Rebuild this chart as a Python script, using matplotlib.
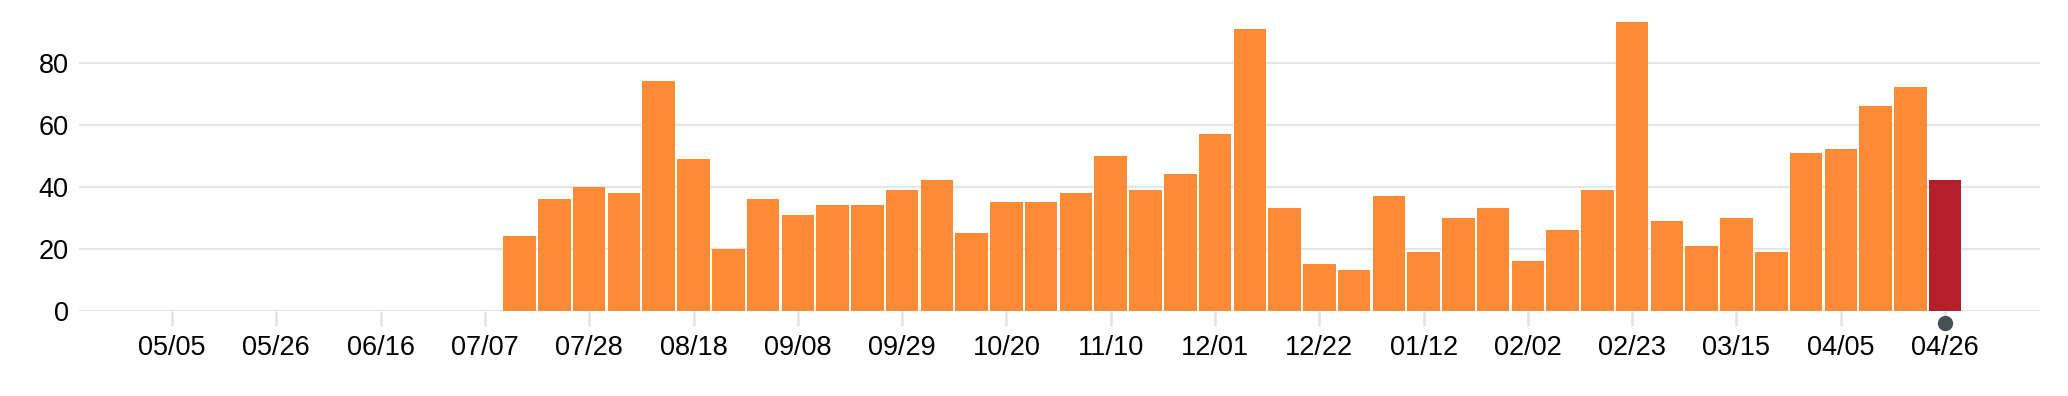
import pandas as pd
import matplotlib
matplotlib.use('Agg')
import matplotlib.pyplot as plt
import matplotlib.dates as mdates
import matplotlib.transforms as mtransforms

# weekly counts, first bar is the week of 2019-07-14, last one is current week
first_week = '2019-07-14'
counts = [24, 36, 40, 38, 74, 49, 20, 36, 31, 34, 34, 39, 42, 25,
          35, 35, 38, 50, 39, 44, 57, 91, 33, 15, 13, 37, 19, 30,
          33, 16, 26, 39, 93, 29, 21, 30, 19, 51, 52, 66, 72, 42]
tick_start = '2019-05-05'
tick_end = '2020-04-26'
y_ticks = [0, 20, 40, 60, 80]

orange = '#fd8a35'
red = '#b31f2b'
grid_col = '#e6e6e6'

weeks = pd.date_range(first_week, periods=len(counts), freq='7D')
ticks = pd.date_range(tick_start, tick_end, freq='21D')
colors = [orange] * (len(counts) - 1) + [red]

plt.rcParams['font.family'] = ['Liberation Sans', 'DejaVu Sans']

fig = plt.figure(figsize=(20.68, 3.96), dpi=100)
ax = fig.add_axes([78.5 / 2068, (396 - 310.7) / 396, (2040 - 78.5) / 2068, 310 / 396])

ax.bar(weeks, counts, width=6.55, color=colors, zorder=3)

ax.set_ylim(0, 100)
ax.set_yticks(y_ticks)
ax.set_xticks(ticks)
ax.xaxis.set_major_formatter(mdates.DateFormatter('%m/%d'))
wk = pd.Timedelta(days=7)
ax.set_xlim(ticks[0] - 2.69 * wk, ticks[-1] + 2.73 * wk)

ax.grid(axis='y', color=grid_col, linewidth=1.6, zorder=0)
for s in ax.spines.values():
    s.set_visible(False)
ax.tick_params(axis='y', length=0, pad=7, labelsize=19.5)
ax.tick_params(axis='x', length=10.5, width=1.8, color='#e2e2e2', pad=7, labelsize=19.5)

# marker under the current week
trans = mtransforms.blended_transform_factory(ax.transData, ax.transAxes)
ax.plot([weeks[-1]], [-0.039], 'o', color='#474f58', markersize=10,
        transform=trans, clip_on=False, zorder=5)

plt.savefig('out.png', dpi=100)
